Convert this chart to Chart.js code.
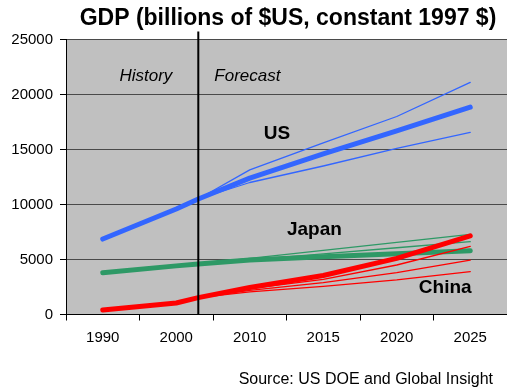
<!DOCTYPE html>
<html>
<head>
<meta charset="utf-8">
<script src="https://cdn.jsdelivr.net/npm/chart.js@4"></script>
<style>
  html, body { margin: 0; padding: 0; background: #fff; }
  #chart { display: block; }
</style>
</head>
<body>
<canvas id="chart" width="507" height="389"></canvas>
<script>
'use strict';

// x axis categories
const yearLabels = ['1990', '2000', '2010', '2015', '2020', '2025'];
const splitYear = 2003;
const historyYears = [1990, 2000, 2003];
const forecastYears = [2003, 2010, 2015, 2020, 2025];

// GDP, billions of 1997 US dollars
const usHistory = [6860, 9590, 10500];
const usForecast = [10500, 12400, 14600, 16700, 18850];
const usHigh = [10500, 13150, 15600, 18000, 21100];
const usLow = [10500, 12000, 13500, 15100, 16550];

const japanHistory = [3800, 4420, 4590];
const japanForecast = [4590, 4950, 5250, 5530, 5800];
const japanHigh = [4590, 5100, 5830, 6560, 7290];
const japanMid = [4590, 4970, 5520, 6070, 6620];

const chinaHistory = [410, 1045, 1530];
const chinaForecast = [1530, 2450, 3550, 5100, 7150];
const chinaHigh = [1530, 2350, 3200, 4500, 6200];
const chinaMid = [1530, 2200, 2900, 3800, 4950];
const chinaLow = [1530, 2050, 2550, 3150, 3900];

const yTicks = [0, 5000, 10000, 15000, 20000, 25000];

const FONT = "'Liberation Sans', Arial, sans-serif";
const BLUE = '#3366ff';
const GREEN = '#2e9966';
const RED = '#ff0000';

// categories are evenly spaced, so a year between two of them sits proportionally in the gap
function yearToPos(year) {
  let yrs = yearLabels.map(Number);
  for (let i = 0; i < yrs.length - 1; i++) {
    if (year <= yrs[i + 1]) {
      return i + (year - yrs[i]) / (yrs[i + 1] - yrs[i]);
    }
  }
  return yrs.length - 1;
}

function line(years, values, color, width) {
  return {
    data: years.map((yr, i) => ({ x: yearToPos(yr), y: values[i] })),
    borderColor: color,
    borderWidth: width,
    pointRadius: 0,
    borderCapStyle: 'round',
    borderJoinStyle: 'round',
    tension: 0,
    fill: false
  };
}

function joined(hist, fc) {
  return hist.concat(fc.slice(1));
}

const allYears = joined(historyYears, forecastYears);

// first dataset is drawn on top
const datasets = [
  line(allYears, joined(chinaHistory, chinaForecast), RED, 5),
  line(forecastYears, chinaHigh, RED, 1.3),
  line(forecastYears, chinaMid, RED, 1.3),
  line(forecastYears, chinaLow, RED, 1.3),
  line(allYears, joined(japanHistory, japanForecast), GREEN, 5),
  line(forecastYears, japanHigh, GREEN, 1.3),
  line(forecastYears, japanMid, GREEN, 1.3),
  line(allYears, joined(usHistory, usForecast), BLUE, 5),
  line(forecastYears, usHigh, BLUE, 1.3),
  line(forecastYears, usLow, BLUE, 1.3)
];

const overlay = {
  id: 'overlay',
  beforeDraw(chart) {
    let a = chart.chartArea;
    let ctx = chart.ctx;
    ctx.save();
    ctx.fillStyle = '#c0c0c0';
    ctx.fillRect(a.left, a.top, a.right - a.left, a.bottom - a.top);
    ctx.restore();
  },
  afterDatasetsDraw(chart) {
    let a = chart.chartArea;
    let ctx = chart.ctx;
    let xs = chart.scales.x;
    let ys = chart.scales.y;
    let divX = xs.getPixelForValue(yearToPos(splitYear));

    ctx.save();
    ctx.strokeStyle = '#000';
    ctx.lineWidth = 2;
    ctx.beginPath();
    ctx.moveTo(divX, a.top - 8);
    ctx.lineTo(divX, a.bottom);
    ctx.stroke();

    ctx.fillStyle = '#000';
    ctx.textBaseline = 'middle';
    ctx.font = 'italic 17px ' + FONT;
    ctx.textAlign = 'right';
    ctx.fillText('History', divX - 26, ys.getPixelForValue(21700));
    ctx.textAlign = 'left';
    ctx.fillText('Forecast', divX + 16, ys.getPixelForValue(21700));

    ctx.font = 'bold 19px ' + FONT;
    ctx.textAlign = 'center';
    ctx.fillText('US', xs.getPixelForValue(2.37), ys.getPixelForValue(16400));
    ctx.fillText('Japan', xs.getPixelForValue(2.88), ys.getPixelForValue(7700));
    ctx.fillText('China', xs.getPixelForValue(4.66), ys.getPixelForValue(2400));
    ctx.restore();
  },
  afterDraw(chart) {
    let ctx = chart.ctx;
    ctx.save();
    ctx.fillStyle = '#000';
    ctx.textBaseline = 'middle';
    ctx.textAlign = 'center';
    ctx.font = 'bold 23px ' + FONT;
    ctx.fillText('GDP (billions of $US, constant 1997 $)', 288, 19);
    ctx.textAlign = 'right';
    ctx.font = '16px ' + FONT;
    ctx.fillText('Source: US DOE and Global Insight', 493, 380);
    ctx.restore();
  }
};

let canvasElem = document.getElementById('chart');

new Chart(canvasElem, {
  type: 'line',
  data: { datasets: datasets },
  options: {
    responsive: false,
    animation: false,
    layout: { padding: { top: 39.5, left: 0, right: 0, bottom: 0 } },
    plugins: {
      legend: { display: false },
      tooltip: { enabled: false },
      title: { display: false }
    },
    scales: {
      x: {
        type: 'linear',
        min: -0.5,
        max: 5.5,
        afterBuildTicks: s => { s.ticks = yearLabels.map((l, i) => ({ value: i })); },
        afterFit: s => { s.height = 74.5; },
        ticks: {
          callback: (v, i) => yearLabels[i],
          color: '#000',
          font: { family: FONT, size: 15 },
          padding: 8,
          maxRotation: 0,
          autoSkip: false
        },
        grid: { offset: true, drawOnChartArea: false, tickLength: 6, tickColor: '#000' },
        border: { color: '#000', width: 1 }
      },
      y: {
        min: 0,
        max: 25000,
        afterBuildTicks: s => { s.ticks = yTicks.map(v => ({ value: v })); },
        afterFit: s => { s.width = 66; },
        ticks: {
          callback: v => String(v),
          color: '#000',
          font: { family: FONT, size: 15 },
          padding: 7
        },
        grid: { color: '#4a4a4a', tickColor: '#000', tickLength: 6 },
        border: { color: '#000', width: 1 }
      }
    }
  },
  plugins: [overlay]
});
</script>
</body>
</html>
